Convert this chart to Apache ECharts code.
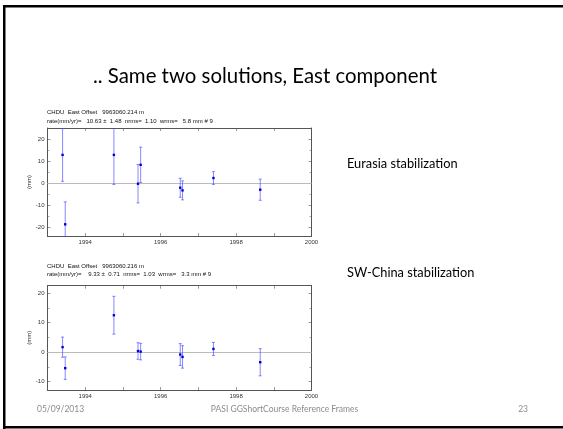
<!DOCTYPE html>
<html><head><meta charset="utf-8">
<script src="https://cdn.jsdelivr.net/npm/echarts@6/dist/echarts.min.js"></script>
<style>html,body{margin:0;padding:0;background:#fff}#c{width:563px;height:429px}</style>
</head><body><div id="c"></div>
<script>
// ---- data ----
const years = [1993.40, 1993.47, 1994.76, 1995.40, 1995.47, 1996.52, 1996.58, 1997.40, 1998.64];
const eurasiaValues = [12.8, -18.7, 12.8, -0.3, 8.3, -2.1, -3.3, 2.3, -3.0];
const eurasiaErrors = [12.0, 10.2, 13.4, 8.7, 8.0, 4.3, 4.3, 2.9, 4.8];
const chinaValues = [1.7, -5.4, 12.5, 0.4, 0.2, -0.8, -1.6, 1.1, -3.4];
const chinaErrors = [3.4, 3.8, 6.4, 2.8, 2.8, 3.7, 3.8, 2.2, 4.6];
const xTickLabels = ['1994', '1996', '1998', '2000'];
const slideTitle = '.. Same two solutions, East component';
const topHeader = ['CHDU  East Offset   9963060.214 m', 'rate(mm/yr)=   10.63 \u00b1  1.48  nrms=  1.10  wrms=   5.8 mm # 9'];
const bottomHeader = ['CHDU  East Offset   9963060.216 m', 'rate(mm/yr)=    9.33 \u00b1  0.71  nrms=  1.03  wrms=   3.3 mm # 9'];
const sideLabels = ['Eurasia stabilization', 'SW-China stabilization'];
const footer = ['05/09/2013', 'PASI GGShortCourse Reference Frames', '23'];

const chart = echarts.init(document.getElementById('c'));
const frame = '#555';
const tickFont = {fontSize: 6, color: '#333', fontFamily: 'Liberation Sans'};

function errRender(params, api) {
  const cs = params.coordSys;
  const x = api.value(0), y = api.value(1), e = api.value(2);
  const p = api.coord([x, y]);
  let t = api.coord([x, y + e])[1], b = api.coord([x, y - e])[1];
  const top = cs.y, bot = cs.y + cs.height;
  const children = [];
  const tc = t >= top, bc = b <= bot;
  t = Math.max(t, top); b = Math.min(b, bot);
  const ls = {stroke: 'rgba(70,70,255,0.65)', lineWidth: 1};
  children.push({type: 'line', shape: {x1: p[0], y1: t, x2: p[0], y2: b}, style: ls});
  if (tc) children.push({type: 'line', shape: {x1: p[0] - 1.5, y1: t, x2: p[0] + 1.5, y2: t}, style: ls});
  if (bc) children.push({type: 'line', shape: {x1: p[0] - 1.5, y1: b, x2: p[0] + 1.5, y2: b}, style: ls});
  if (p[1] >= top && p[1] <= bot)
    children.push({type: 'rect', shape: {x: p[0] - 1.2, y: p[1] - 1.2, width: 2.4, height: 2.4}, style: {fill: '#0000dd'}});
  return {type: 'group', children};
}

function xAxes(gi) {
  const base = {type: 'value', gridIndex: gi, min: 1993, max: 2000, interval: 1,
    axisLine: {show: true, onZero: false, lineStyle: {color: frame, width: 1}},
    axisTick: {show: true, inside: true, length: 3, lineStyle: {color: frame, width: 0.6}},
    splitLine: {show: false}};
  return [
    Object.assign({}, base, {position: 'bottom', axisLabel: Object.assign({margin: 3,
      formatter: v => xTickLabels.indexOf(String(Math.round(v))) >= 0 ? String(Math.round(v)) : ''}, tickFont)}),
    Object.assign({}, base, {position: 'top', axisLabel: {show: false}})
  ];
}
function yAxes(gi, min, max) {
  const base = {type: 'value', gridIndex: gi, min, max,
    axisLine: {show: true, onZero: false, lineStyle: {color: frame, width: 1}},
    axisTick: {show: true, inside: true, length: 3, lineStyle: {color: frame, width: 0.6}},
    minorTick: {show: true, splitNumber: 2, length: 2, lineStyle: {color: frame, width: 0.5}},
    splitLine: {show: false}};
  return [
    Object.assign({}, base, {position: 'left', name: '(mm)', nameLocation: 'middle', nameRotate: 90, nameGap: 12,
      nameTextStyle: {fontSize: 6, color: '#333', fontFamily: 'Liberation Sans'},
      axisLabel: Object.assign({margin: 3, showMinLabel: false, showMaxLabel: false}, tickFont)}),
    Object.assign({}, base, {position: 'right', axisLabel: {show: false}})
  ];
}

function mk(vals, errs) { return years.map((y, i) => [y, vals[i], errs[i]]); }

const txt = (x, y, s, size, color, font, align) => ({type: 'text', x, y,
  style: {text: s, fontSize: size, fill: color, fontFamily: font, textAlign: align || 'left', textVerticalAlign: 'middle'}});

chart.setOption({
  animation: false,
  backgroundColor: '#fff',
  grid: [
    {left: 47.5, top: 128, width: 264, height: 108},
    {left: 47.5, top: 285.7, width: 264, height: 104.3}
  ],
  xAxis: [...xAxes(0), ...xAxes(1)],
  yAxis: [...yAxes(0, -24, 25), ...yAxes(1, -12.8, 22.5)],
  series: [
    {type: 'custom', xAxisIndex: 0, yAxisIndex: 0, renderItem: errRender, data: mk(eurasiaValues, eurasiaErrors), z: 5,
      markLine: {silent: true, symbol: 'none', label: {show: false}, lineStyle: {color: '#bbb', type: 'solid', width: 1}, data: [{yAxis: 0}]}},
    {type: 'custom', xAxisIndex: 2, yAxisIndex: 2, renderItem: errRender, data: mk(chinaValues, chinaErrors), z: 5,
      markLine: {silent: true, symbol: 'none', label: {show: false}, lineStyle: {color: '#bbb', type: 'solid', width: 1}, data: [{yAxis: 0}]}}
  ],
  graphic: [
    {type: 'rect', shape: {x: 3, y: 5, width: 600, height: 2.5}, style: {fill: '#000'}},
    {type: 'rect', shape: {x: 3, y: 5, width: 2.5, height: 430}, style: {fill: '#000'}},
    {type: 'rect', shape: {x: 3, y: 426, width: 600, height: 2.5}, style: {fill: '#000'}},
    txt(265, 76, slideTitle, 20.4, '#000', 'Lato', 'center'),
    txt(47, 112, topHeader[0], 6, '#111', 'Liberation Sans'),
    txt(47, 121, topHeader[1], 6, '#111', 'Liberation Sans'),
    txt(47, 266.5, bottomHeader[0], 6, '#111', 'Liberation Sans'),
    txt(47, 274.5, bottomHeader[1], 6, '#111', 'Liberation Sans'),
    txt(347, 164, sideLabels[0], 12.8, '#000', 'Lato'),
    txt(347, 273, sideLabels[1], 12.8, '#000', 'Lato'),
    txt(37, 409, footer[0], 8.5, '#8c8c8c', 'Lato'),
    txt(284.5, 409, footer[1], 8.5, '#8c8c8c', 'Lato', 'center'),
    txt(528, 409, footer[2], 8.5, '#8c8c8c', 'Lato', 'right')
  ]
});
</script></body></html>
